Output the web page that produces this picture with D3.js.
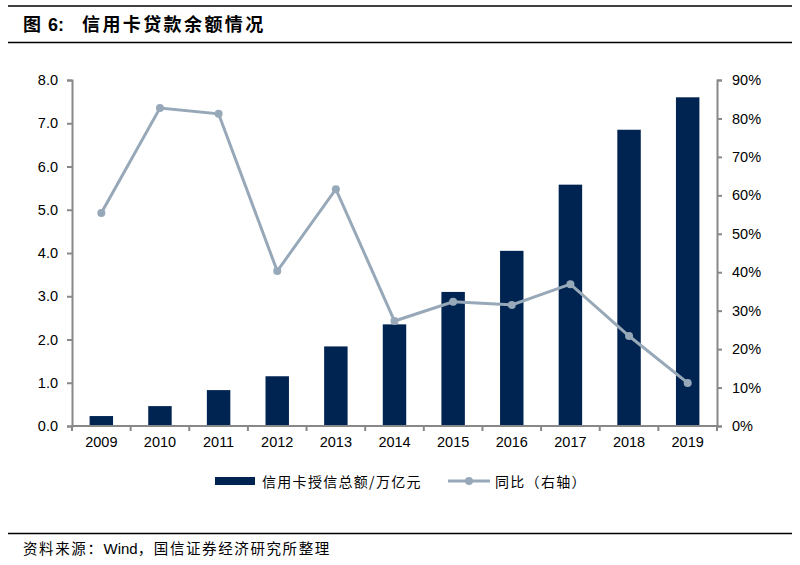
<!DOCTYPE html>
<html><head><meta charset="utf-8">
<script src="https://cdn.jsdelivr.net/npm/d3@7"></script>
<style>body{margin:0;background:#fff;} svg{display:block;}</style>
</head><body>
<script>
const years = ["2009","2010","2011","2012","2013","2014","2015","2016","2017","2018","2019"];
const balance = [0.23,0.46,0.83,1.15,1.84,2.35,3.1,4.05,5.58,6.85,7.6];
const yoy = [55.4,82.7,81.2,40.3,61.6,27.3,32.3,31.5,36.9,23.4,11.2];
const leftTicks = [0,1,2,3,4,5,6,7,8];
const rightTicks = [0,10,20,30,40,50,60,70,80,90];

const W=800,H=565;
const svg=d3.select("body").append("svg").attr("width",W).attr("height",H);
const cjk="'Noto Sans CJK SC','Noto Sans',sans-serif";
const lat="'Liberation Sans',Arial,sans-serif";

svg.append("line").attr("x1",8).attr("x2",792).attr("y1",6).attr("y2",6).attr("stroke","#000").attr("stroke-width",1.3);
svg.append("line").attr("x1",8).attr("x2",792).attr("y1",42.5).attr("y2",42.5).attr("stroke","#000").attr("stroke-width",1.3);
const title=svg.append("text").attr("y",31).attr("font-family",cjk).attr("font-weight","bold").attr("font-size",18);
title.append("tspan").attr("x",23).text("图");
title.append("tspan").attr("x",48).attr("font-family",lat).text("6:");
title.append("tspan").attr("x",82).attr("letter-spacing",2.4).text("信用卡贷款余额情况");

svg.append("line").attr("x1",8).attr("x2",792).attr("y1",533.5).attr("y2",533.5).attr("stroke","#000").attr("stroke-width",1.3);
const foot=svg.append("text").attr("x",23).attr("y",554).attr("font-family",cjk).attr("font-size",14.5);
foot.append("tspan").attr("letter-spacing",1.6).text("资料来源：");
foot.append("tspan").attr("font-family",lat).attr("font-size",15).text("Wind");
foot.append("tspan").attr("letter-spacing",1.6).text("，国信证券经济研究所整理");

const L=72,R=717,T=80,B=426;
const xo=d3.scaleBand().domain(years).range([L,R]);
const barW=xo.bandwidth()*0.4;
const cx=i=>xo(years[i])+xo.bandwidth()/2;
const yl=d3.scaleLinear().domain([0,8]).range([B,T]);
const yr=d3.scaleLinear().domain([0,90]).range([B,T]);
const axisColor="#888";

svg.selectAll("rect.bar").data(balance).join("rect").attr("class","bar")
 .attr("x",(d,i)=>cx(i)-barW/2).attr("width",barW)
 .attr("y",d=>yl(d)).attr("height",d=>B-yl(d)).attr("fill","#002451");

const gl=svg.append("g").attr("transform",`translate(${L},0)`)
 .call(d3.axisLeft(yl).tickValues(leftTicks).tickFormat(d3.format(".1f")).tickSize(5).tickPadding(9));
const gr=svg.append("g").attr("transform",`translate(${R},0)`)
 .call(d3.axisRight(yr).tickValues(rightTicks).tickFormat(d=>d+"%").tickSize(5).tickPadding(10));
const gx=svg.append("g").attr("transform",`translate(0,${B})`)
 .call(d3.axisBottom(xo).tickSize(0).tickPadding(11));
gx.selectAll(".tick").append("line").attr("x1",-xo.bandwidth()/2).attr("x2",-xo.bandwidth()/2).attr("y1",0).attr("y2",5);
gx.append("line").attr("class","endtick").attr("x1",R).attr("x2",R).attr("y1",0).attr("y2",5).attr("stroke",axisColor).attr("stroke-width",2);
[gl,gr,gx].forEach(g=>{
 g.select(".domain").attr("stroke",axisColor).attr("stroke-width",2);
 g.selectAll(".tick line").attr("stroke",axisColor).attr("stroke-width",2);
 g.selectAll("text").attr("font-family",lat).attr("font-size",14.5).attr("fill","#000");
});
gx.select(".domain").attr("d",`M${L},0H${R}`);

const lineColor="#97A8B9";
const line=d3.line().x((d,i)=>cx(i)).y(d=>yr(d));
svg.append("path").datum(yoy).attr("d",line).attr("fill","none").attr("stroke",lineColor).attr("stroke-width",3);
svg.selectAll("circle.pt").data(yoy).join("circle").attr("class","pt")
 .attr("cx",(d,i)=>cx(i)).attr("cy",d=>yr(d)).attr("r",4).attr("fill",lineColor);

// legend
svg.append("rect").attr("x",215).attr("y",477).attr("width",40).attr("height",8).attr("fill","#002451");
svg.append("text").attr("x",262).attr("y",487).attr("font-family",cjk).attr("font-size",14).attr("letter-spacing",1.3).text("信用卡授信总额/万亿元");
svg.append("line").attr("x1",448).attr("x2",490).attr("y1",481).attr("y2",481).attr("stroke",lineColor).attr("stroke-width",3);
svg.append("circle").attr("cx",469).attr("cy",481).attr("r",4).attr("fill",lineColor);
svg.append("text").attr("x",495).attr("y",487).attr("font-family",cjk).attr("font-size",14).attr("letter-spacing",1.3).text("同比（右轴）");
</script>
</body></html>
